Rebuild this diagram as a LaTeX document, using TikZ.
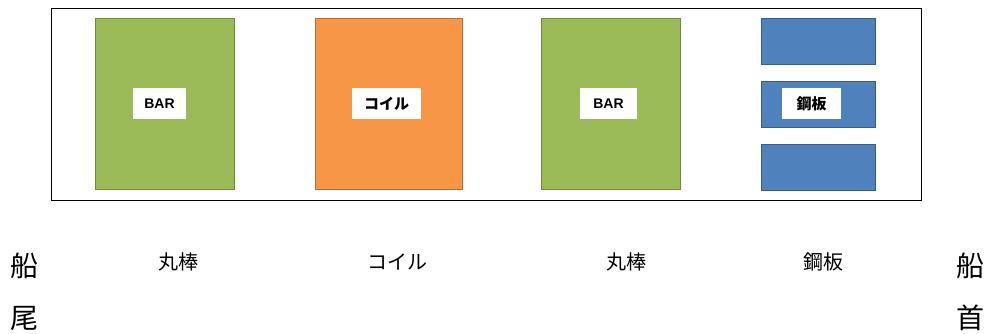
\documentclass[tikz,border=0pt]{standalone}
\usepackage{fontspec}
\setmainfont{Liberation Sans}
\newfontfamily\jp{Noto Sans CJK JP}
\definecolor{cgreen}{HTML}{9BBB59}
\definecolor{cgreenb}{HTML}{71893F}
\definecolor{corange}{HTML}{F79646}
\definecolor{coranb}{HTML}{B66D31}
\definecolor{cblue}{HTML}{4F81BD}
\definecolor{cblueb}{HTML}{385D8A}
\begin{document}
\begin{tikzpicture}[x=1pt,y=-1pt,
  cargo/.style={draw=#1, line width=0.8pt},
  tag/.style={fill=white, inner sep=0pt, font=\bfseries},
  captxt/.style={font=\jp\fontsize{20}{20}\selectfont},
  sidetxt/.style={font=\jp\fontsize{28}{28}\selectfont}]
\useasboundingbox (0,0) rectangle (990,333);
\draw[line width=1pt] (51,8) rectangle (921,200);
% boxes
\path[fill=cgreen,cargo=cgreenb] (95,18) rectangle (234,189);
\path[fill=corange,cargo=coranb] (315,18) rectangle (462,189);
\path[fill=cgreen,cargo=cgreenb] (541,18) rectangle (680,189);
\path[fill=cblue,cargo=cblueb] (761,18) rectangle (875,64);
\path[fill=cblue,cargo=cblueb] (761,81) rectangle (875,127);
\path[fill=cblue,cargo=cblueb] (761,144) rectangle (875,190);
% tags
\node[tag, minimum width=53pt, minimum height=31pt, font=\bfseries\fontsize{14}{14}\selectfont] (t1) at (159.5,103.5) {BAR};
\node[tag, minimum width=69pt, minimum height=31pt, font=\jp\bfseries\fontsize{15}{15}\selectfont] (t2) at (386.5,103.5) {コイル};
\node[tag, minimum width=57pt, minimum height=31pt, font=\bfseries\fontsize{14}{14}\selectfont] (t3) at (608.5,103.5) {BAR};
\node[tag, minimum width=59pt, minimum height=31pt, font=\jp\bfseries\fontsize{15}{15}\selectfont] (t4) at (811.5,103.5) {鋼板};
% captions
\node[captxt] (c1) at (178,262) {丸棒};
\node[captxt] (c2) at (397,262) {コイル};
\node[captxt] (c3) at (626,262) {丸棒};
\node[captxt] (c4) at (823,262) {鋼板};
\node[sidetxt] (s1) at (24,266) {船};
\node[sidetxt] (s2) at (24,318) {尾};
\node[sidetxt] (s3) at (970,266) {船};
\node[sidetxt] (s4) at (970,318) {首};
\end{tikzpicture}
\end{document}
